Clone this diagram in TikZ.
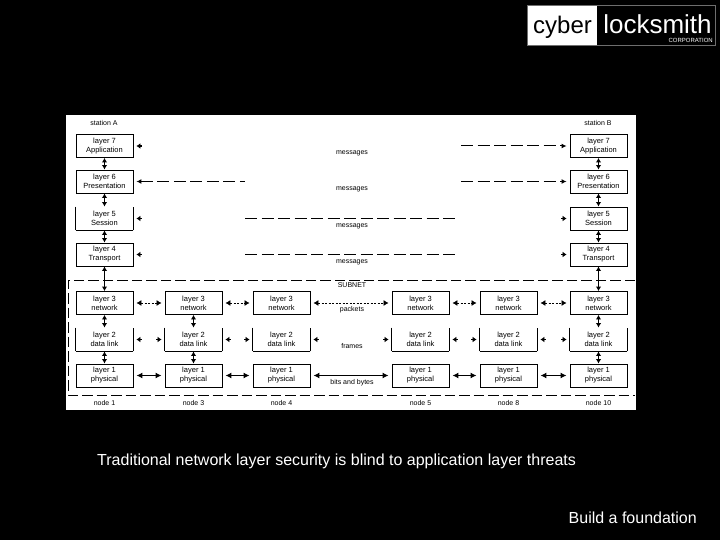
\documentclass[tikz,border=0pt]{standalone}
\usepackage{fontspec}
\setmainfont{Liberation Sans}
\usepackage{xcolor}
\usetikzlibrary{calc,arrows.meta}
\definecolor{framegray}{HTML}{6E6E6E}
\tikzset{
  layerbox/.style={draw=black, line width=0.9pt, minimum width=57pt, minimum height=23pt,
    inner sep=0pt, align=center, font=\fontsize{7.5}{9}\selectfont},
  openbox/.style={layerbox, draw=none, append after command={
    (\tikzlastnode.north west) edge[line width=0.9pt] (\tikzlastnode.south west)
    (\tikzlastnode.south west) edge[line width=0.9pt] (\tikzlastnode.south east)
    (\tikzlastnode.south east) edge[line width=0.9pt] (\tikzlastnode.north east)}},
  tag/.style={font=\fontsize{7}{8}\selectfont, inner sep=0pt},
  peer/.style={line width=1pt, dash pattern=on 12pt off 4.5pt},
  peerarrow/.style={peer, -{Latex[length=5pt,width=5pt]}, shorten >=3pt},
  stub/.style={line width=1.6pt, {Latex[length=4pt,width=6pt]}-, shorten <=3pt},
  stack/.style={line width=1.1pt, {Latex[length=4.5pt,width=5.5pt]}-{Latex[length=4.5pt,width=5.5pt]}},
  hop/.style={line width=0.7pt, dash pattern=on 2pt off 1.5pt, {Latex[length=5pt,width=6pt]}-{Latex[length=5pt,width=6pt]}, shorten <=3pt, shorten >=3pt},
  wire/.style={line width=1.7pt, {Latex[length=6pt,width=6pt]}-{Latex[length=6pt,width=6pt]}, shorten <=3pt, shorten >=3pt}
}

\begin{document}
\begin{tikzpicture}[x=1pt,y=-1pt]
  \useasboundingbox (0,0) rectangle (720,540);
  \fill[black] (0,0) rectangle (720,540);
  \fill[white] (66,115) rectangle (636,410);

  % logo
  \draw[framegray, line width=1pt] (527.5,5.5) rectangle (715.5,45.5);
  \fill[white] (528,6) rectangle (597,45);
  \node[font=\fontsize{24}{24}\selectfont, text=black, inner sep=0pt] (cyber) at (562.5,27) {cyber};
  \node[font=\fontsize{26}{26}\selectfont, text=white, inner sep=0pt] (locksmith) at (657.5,24) {locksmith};
  \node[font=\fontsize{6}{6}\selectfont, text=white, inner sep=0pt, anchor=east] (corp) at (713,40.5) {CORPORATION};

  % stations
  \node[layerbox] (a7) at (104.5,146) {layer 7\\Application};
  \node[layerbox] (a6) at (104.5,181.5) {layer 6\\Presentation};
  \node[openbox] (a5) at (104.5,218.5) {layer 5\\Session};
  \node[layerbox] (a4) at (104.5,254.5) {layer 4\\Transport};
  \node[layerbox] (b7) at (598.5,146) {layer 7\\Application};
  \node[layerbox] (b6) at (598.5,181.5) {layer 6\\Presentation};
  \node[layerbox] (b5) at (598.5,218.5) {layer 5\\Session};
  \node[layerbox] (b4) at (598.5,254.5) {layer 4\\Transport};
  \node[tag] (stationa) at (104,123) {station A};
  \node[tag] (stationb) at (598,123) {station B};

  % subnet
  \coordinate (subnetne) at (635,280);
  \coordinate (subnetnw) at (68,280);
  \coordinate (subnetsw) at (68,395);
  \coordinate (subnetse) at (635,395);
  \draw[line width=0.8pt, dash pattern=on 10.5pt off 4pt] (subnetne) -- (subnetnw) -- (subnetsw) -- (subnetse);

  \foreach \col/\x/\name in {1/104.5/node 1,2/193.5/node 3,3/281.5/node 4,4/420.5/node 5,5/508.5/node 8,6/598.5/node 10} {
    \node[layerbox] (net\col) at (\x,303) {layer 3\\network};
    \node[openbox] (link\col) at (\x,339.5) {layer 2\\data link};
    \node[layerbox] (phy\col) at (\x,375.5) {layer 1\\physical};
    \node[tag] (name\col) at (\x,402.5) {\name};
  }

  % labels
  \node[tag] (msg7) at (352,153) {messages};
  \node[tag] (msg6) at (352,189) {messages};
  \node[tag] (msg5) at (352,226) {messages};
  \node[tag] (msg4) at (352,262) {messages};
  \node[tag] (subnet) at (352,285) {SUBNET};
  \node[tag] (packets) at (352,310) {packets};
  \node[tag] (frames) at (352,346) {frames};
  \node[tag] (bits) at (352,382.5) {bits and bytes};

  % up and down the stacks
  \foreach \s in {a,b} {
    \draw[stack] (\s7) -- (\s6);
    \draw[stack] (\s6) -- (\s5);
    \draw[stack] (\s5) -- (\s4);
  }
  \draw[stack] (a4) -- (net1);
  \draw[stack] (b4) -- (net6);
  \foreach \col in {1,2,6} {
    \draw[stack] (net\col) -- (link\col);
    \draw[stack] (link\col) -- (phy\col);
  }

  % between the nodes
  \foreach \l/\r in {1/2,2/3,3/4,4/5,5/6} {
    \draw[hop] (net\l) -- (net\r);
    \draw[wire] (phy\l) -- (phy\r);
    \coordinate (linkout\l) at ($(link\l.east)+(9,0)$);
    \coordinate (linkin\r) at ($(link\r.west)+(-9,0)$);
    \draw[stub] (link\l.east) -- (linkout\l);
    \draw[stub] (link\r.west) -- (linkin\r);
  }

  % peer messages
  \foreach \n in {7,5,4} {
    \coordinate (aout\n) at ($(a\n.east)+(9,0)$);
    \draw[stub] (a\n) -- (aout\n);
  }
  \foreach \n in {5,4} {
    \coordinate (bout\n) at ($(b\n.west)+(-9,0)$);
    \draw[stub] (b\n) -- (bout\n);
  }
  \coordinate (afree6) at (245,181.5);
  \draw[peer, {Latex[length=5pt,width=5pt]}-, shorten <=3pt] (a6) -- (afree6);
  \coordinate (bfree7) at (461,146);
  \coordinate (bfree6) at (461,181.5);
  \draw[peerarrow] (bfree7) -- (b7);
  \draw[peerarrow] (bfree6) -- (b6);
  \coordinate (midl5) at (245,218.5);
  \coordinate (midr5) at (458,218.5);
  \coordinate (midl4) at (245,254.5);
  \coordinate (midr4) at (458,254.5);
  \draw[peer] (midl5) -- (midr5);
  \draw[peer] (midl4) -- (midr4);

  % captions
  \node[text=white, font=\fontsize{16}{18}\selectfont, inner sep=0pt, anchor=west] (caption) at (97,461.5) {Traditional network layer security is blind to application layer threats};
  \node[text=white, font=\fontsize{16}{18}\selectfont, inner sep=0pt, anchor=east] (footer) at (697,517.5) {Build a foundation};
\end{tikzpicture}
\end{document}
